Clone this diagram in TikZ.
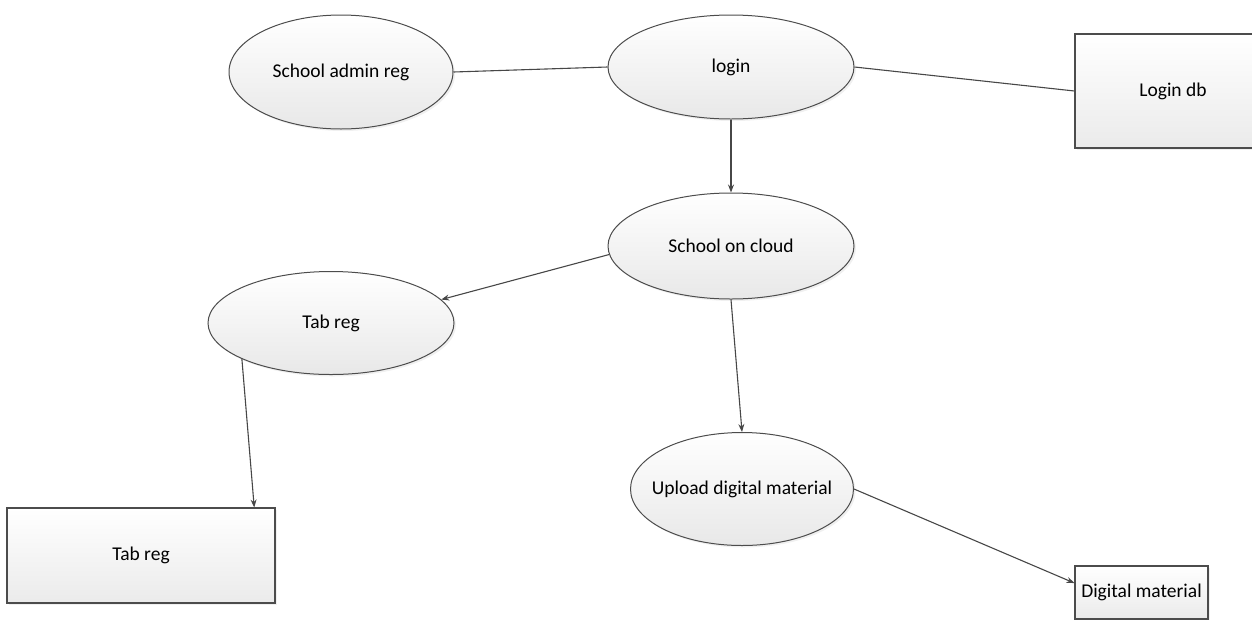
\documentclass[tikz,border=0pt]{standalone}
\usepackage{fontspec}
\setmainfont{Carlito}
\usetikzlibrary{shapes.geometric,shadows,arrows.meta}

\begin{document}
\begin{tikzpicture}[x=1pt,y=-1pt,>={Stealth[length=8pt,width=6pt]},font=\fontsize{19.5}{23}\selectfont,
  proc/.style={ellipse,draw=black!70,line width=1pt,top color=white,bottom color=black!9,inner sep=0pt,
    drop shadow={opacity=0.12,shadow xshift=2pt,shadow yshift=-2pt}},
  store/.style={rectangle,draw=black!70,line width=1.1pt,top color=white,bottom color=black!8,inner sep=0pt,
    drop shadow={opacity=0.12,shadow xshift=2pt,shadow yshift=-2pt}},
  link/.style={draw=black!72,line width=1.1pt}]
\useasboundingbox (0,0) rectangle (1252,619);
\clip (0,0) rectangle (1252,619);
% Prozesse
\node[proc,minimum width=224pt,minimum height=114pt] (adm) at (341,72) {School admin reg};
\node[proc,minimum width=246pt,minimum height=104pt] (login) at (731,67) {login};
\node[proc,minimum width=246pt,minimum height=106pt] (cloud) at (731,246) {School on cloud};
\node[proc,minimum width=246pt,minimum height=103pt] (tabreg) at (331,323) {Tab reg};
\node[proc,minimum width=223pt,minimum height=113pt,inner xsep=-30pt] (upload) at (742,489) {Upload digital material};
% Datenspeicher
\node[store,minimum width=196pt,minimum height=114pt] (logdb) at (1173,91) {Login db\hspace{20pt}};
\node[store,minimum width=268pt,minimum height=95pt] (tabdb) at (141,555.5) {Tab reg};
\node[store,minimum width=133pt,minimum height=53pt] (matdb) at (1141.5,592.5) {Digital material};
% Verbindungen
\draw[link] (adm.east) -- (login.west);
\draw[link] (login.east) -- (logdb.west);
\draw[link,->] (login.south) -- (cloud.north);
\draw[link,->] (cloud.184) -- (tabreg.12);
\draw[link,->] (cloud.south) -- (upload.north);
\draw[link,->] (tabreg.-158) -- (tabdb.23);
\draw[link,->] (upload.east) -- (matdb.172);
\end{tikzpicture}
\end{document}
